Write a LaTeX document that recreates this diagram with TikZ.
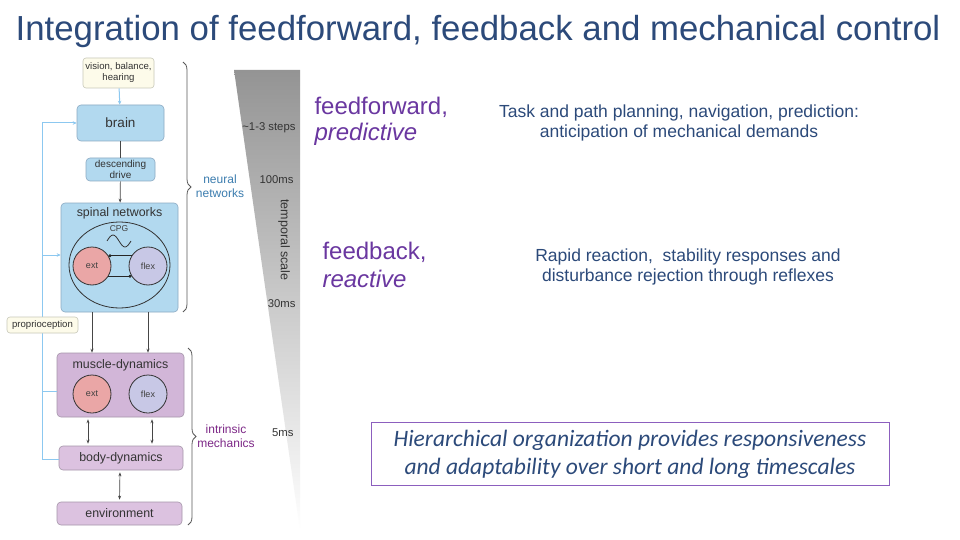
\documentclass[tikz,border=0pt]{standalone}
\usepackage{fontspec}
\setmainfont{Liberation Sans}
\newfontfamily\boxfont{Carlito}
\usetikzlibrary{arrows.meta,shapes.geometric,decorations.pathreplacing,calc}
\definecolor{titleblue}{RGB}{44,74,122}
\definecolor{ffpurple}{RGB}{106,55,160}
\definecolor{nnblue}{RGB}{60,125,175}
\definecolor{impurple}{RGB}{125,40,135}
\definecolor{lblue}{RGB}{178,217,239}
\definecolor{lblueborder}{RGB}{140,170,195}
\definecolor{cream}{RGB}{253,251,234}
\definecolor{creamborder}{RGB}{200,200,185}
\definecolor{mpurple}{RGB}{210,182,216}
\definecolor{bpurple}{RGB}{220,194,224}
\definecolor{pborder}{RGB}{165,150,170}
\definecolor{extred}{RGB}{234,166,166}
\definecolor{flexlav}{RGB}{200,200,230}
\definecolor{fbline}{RGB}{140,200,240}
\definecolor{darkline}{RGB}{70,70,70}
\definecolor{boxpurple}{RGB}{140,95,190}
\tikzset{
  bluebox/.style={draw=lblueborder, fill=lblue, rounded corners=4pt, line width=0.6pt, text=black!80},
  creambox/.style={draw=creamborder, fill=cream, rounded corners=3pt, line width=0.6pt, text=black!80, align=center},
  purplebox/.style={draw=pborder, fill=bpurple, rounded corners=4pt, line width=0.6pt, text=black!80},
  circ/.style={circle, draw=black!80, line width=0.8pt, minimum size=38pt, inner sep=0pt, font=\fontsize{9}{10}\selectfont, text=black!75},
  arr/.style={draw=darkline, line width=0.7pt, -{Stealth[length=4pt,width=3pt]}},
  darr/.style={draw=darkline, line width=0.7pt, {Stealth[length=4pt,width=3pt]}-{Stealth[length=4pt,width=3pt]}, shorten >=2pt, shorten <=2pt},
  fb/.style={draw=fbline, line width=1pt},
  fbarr/.style={fb, -{Stealth[length=4pt,width=3.5pt]}},
  brc/.style={draw=black!65, line width=0.8pt, decorate, decoration={brace, amplitude=8pt}},
  scalelbl/.style={font=\fontsize{11.3}{13}\selectfont, text=black!80},
  boxlbl/.style={font=\fontsize{12.4}{14}\selectfont, text=black!80},
}
\begin{document}
\begin{tikzpicture}[x=1pt,y=-1pt]
\useasboundingbox (0,0) rectangle (960,540);
\fill[white] (0,0) rectangle (960,540);

% title
\node[text=titleblue, font=\fontsize{34.8}{40}\selectfont] (title) at (478,32) {Integration of feedforward, feedback and mechanical control};

% temporal triangle
\shade[top color=black!42, middle color=black!20, bottom color=white] (234,70) -- (300,70) -- (300,530) -- cycle;
\node[scalelbl, anchor=east] (s1) at (299,128) {\textasciitilde1-3 steps};
\node[scalelbl, anchor=east] (s2) at (297,180) {100ms};
\node[scalelbl, anchor=east] (s3) at (299,304) {30ms};
\node[scalelbl, anchor=east] (s4) at (297,433) {5ms};
\node[scalelbl, font=\fontsize{12.5}{14}\selectfont, rotate=-90] (ts) at (284,240) {temporal scale};

% left diagram nodes
\node[creambox, minimum width=71pt, minimum height=30pt, inner sep=1pt, font=\fontsize{9.6}{11}\selectfont] (vision) at (118.5,73) {vision, balance,\\hearing};
\node[bluebox, minimum width=87pt, minimum height=36pt, font=\fontsize{13.5}{15}\selectfont] (brain) at (120.5,123) {brain};
\node[bluebox, minimum width=69pt, minimum height=23pt, inner sep=0pt, align=center, font=\fontsize{10}{11}\selectfont] (desc) at (120.5,169.5) {descending\\drive};
\node[bluebox, minimum width=117pt, minimum height=109pt] (spinal) at (119.5,257.5) {};
\node[boxlbl] (spinaltxt) at (119.5,213) {spinal networks};
\node[ellipse, draw=black!80, line width=0.8pt, minimum width=101pt, minimum height=86pt] (cpgell) at (119.5,265) {};
\node[font=\fontsize{8.5}{9}\selectfont, text=black!75] (cpg) at (119,229) {CPG};
\draw[black!80, line width=0.8pt] (107,241) sin (113,235) cos (119,241) sin (125,247) cos (131,241);
\node[circ, fill=extred] (sext) at (92,266) {ext};
\node[circ, fill=flexlav] (sflex) at (148,266) {flex};
\draw[black!85, line width=0.8pt, -{Circle[length=3pt]}] (sflex.148) -- (sext.32);
\draw[black!85, line width=0.8pt, -{Circle[length=3pt]}] (sext.-32) -- (sflex.-148);

\node[purplebox, fill=mpurple, minimum width=127pt, minimum height=64pt] (muscle) at (120.5,385) {};
\node[boxlbl] (muscletxt) at (120.5,365) {muscle-dynamics};
\node[circ, fill=extred] (mext) at (92,394) {ext};
\node[circ, fill=flexlav] (mflex) at (148,394) {flex};
\node[purplebox, boxlbl, minimum width=124pt, minimum height=24pt, inner sep=0pt] (body) at (121,458) {body-dynamics};
\node[purplebox, boxlbl, minimum width=125pt, minimum height=23pt, inner sep=0pt] (env) at (119.5,513.5) {environment};

% connectors
\draw[fbarr] (vision) -- (brain);
\draw[draw=darkline, line width=0.7pt] (brain) -- (desc);
\draw[arr] (desc) -- (spinal);
\draw[arr] (spinal.south -| sext) -- (muscle.north -| mext);
\draw[arr] (spinal.south -| sflex) -- (muscle.north -| mflex);
\draw[darr] ($(muscle.south)+(-32.5,0)$) -- ($(body.north)+(-33,0)$);
\draw[darr] ($(muscle.south)+(31.5,0)$) -- ($(body.north)+(31,0)$);
\draw[darr] ($(body.south)+(-1,0)$) -- (env.north);

% feedback line
\coordinate (fbbot) at (42,459);
\coordinate (j1) at (42,255);
\coordinate (j2) at (42,391);
\draw[fbarr] (body.west |- fbbot) -- (fbbot) |- (brain.west);
\draw[fbarr] (j1) -- (j1 -| spinal.west);
\draw[fb] (j2) -- (j2 -| muscle.west);
\node[creambox, minimum width=71pt, minimum height=16pt, inner sep=1pt, font=\fontsize{9.6}{11}\selectfont] (prop) at (42.5,325) {proprioception};

% braces
\draw[brc] (183,62) -- (183,312);
\draw[brc] (188,348) -- (188,525);
\node[text=nnblue, align=center, font=\fontsize{12}{13.5}\selectfont] (nn) at (220,186) {neural\\networks};
\node[text=impurple, align=center, font=\fontsize{12}{13.5}\selectfont] (im) at (226,436) {intrinsic\\mechanics};

% right texts
\node[text=ffpurple, anchor=west, font=\fontsize{24}{28}\selectfont] (ff1) at (311,107) {feedforward,};
\node[text=ffpurple, anchor=west, font=\fontsize{24}{28}\selectfont\itshape] (ff2) at (311,134) {predictive};
\node[text=titleblue, align=center, font=\fontsize{17.5}{20}\selectfont] (ffdesc) at (679,123) {Task and path planning, navigation, prediction:\\anticipation of mechanical demands};
\node[text=ffpurple, anchor=west, font=\fontsize{24}{28}\selectfont] (fb1) at (319,252) {feedback,};
\node[text=ffpurple, anchor=west, font=\fontsize{24}{28}\selectfont\itshape] (fb2) at (319,279) {reactive};
\node[text=titleblue, align=center, font=\fontsize{17.5}{20}\selectfont] (fbdesc) at (688,267) {Rapid reaction,\ \ stability responses and\\disturbance rejection through reflexes};

\node[draw=boxpurple, line width=0.8pt, minimum width=518pt, minimum height=63pt] (hbox) at (630,453.5) {};
\node[text=titleblue, align=center, font=\boxfont\fontsize{23.5}{28}\selectfont\itshape] (htxt) at (630,454) {Hierarchical organization provides responsiveness\\and adaptability over short and long timescales};
\end{tikzpicture}
\end{document}
